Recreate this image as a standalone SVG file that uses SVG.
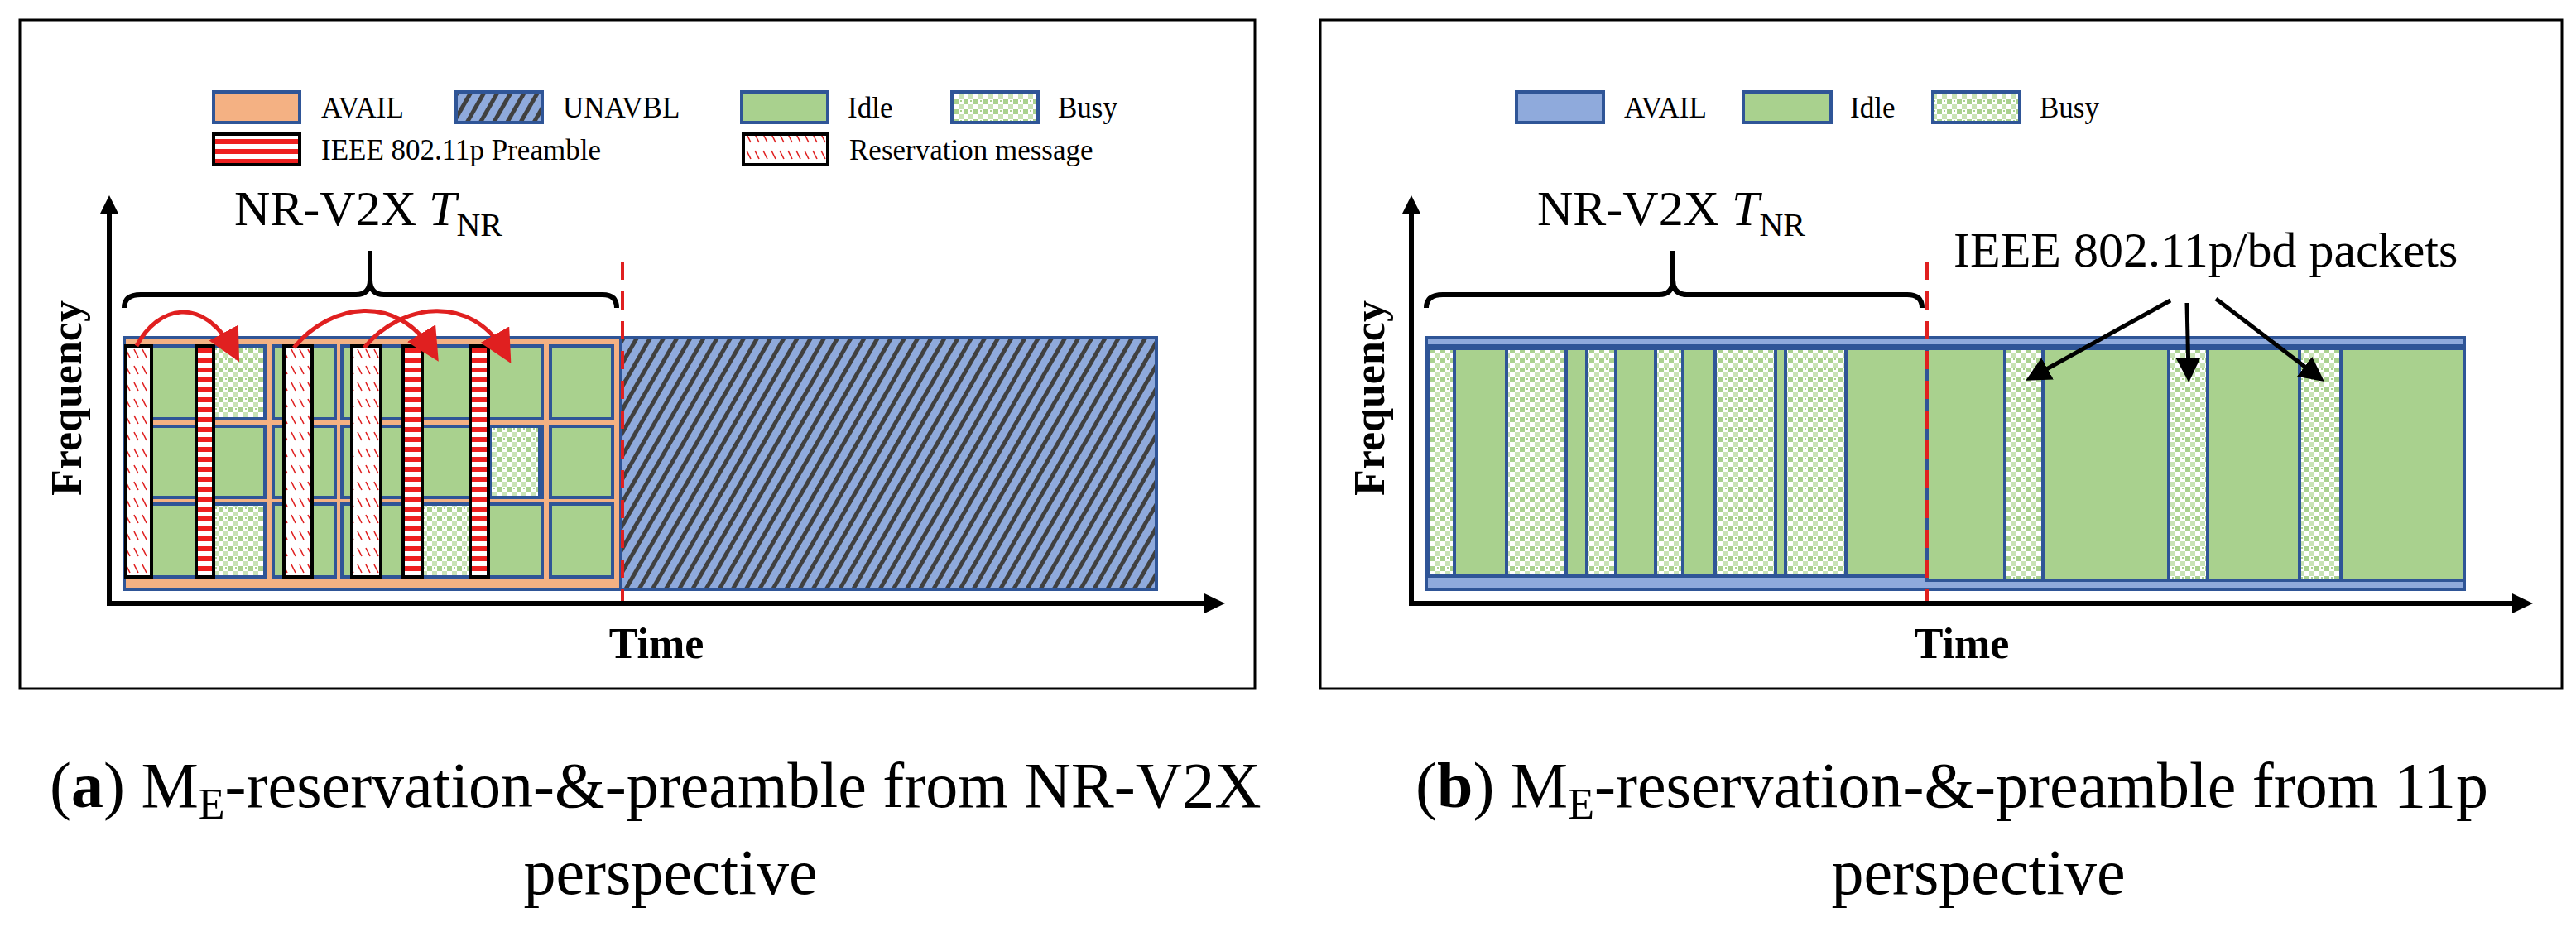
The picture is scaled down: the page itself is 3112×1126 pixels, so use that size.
<svg xmlns="http://www.w3.org/2000/svg" width="3112" height="1126" viewBox="0 0 3112 1126">
<defs>
<style>
.lg{font-family:"Liberation Serif",serif;font-size:35px;fill:#000}
.big{font-family:"Liberation Serif",serif;font-size:60px;fill:#000}
.ax{font-family:"Liberation Serif",serif;font-size:52px;font-weight:bold;fill:#000}
.cap{font-family:"Liberation Serif",serif;font-size:78px;fill:#000}
.cell{fill:#a9d18e;stroke:#2f5597;stroke-width:4}
.busy{fill:url(#busy);stroke:#2f5597;stroke-width:4}
.bar{stroke:#000;stroke-width:4}
.box{fill:none;stroke:#000;stroke-width:3}
.axis{stroke:#000;stroke-width:6;fill:none}
.brace{stroke:#000;stroke-width:6;fill:none}
.dash{stroke:#e02020;stroke-width:4;stroke-dasharray:22,14}
</style>
<pattern id="busy" width="12" height="12" patternUnits="userSpaceOnUse">
<rect width="12" height="12" fill="#fff"/>
<rect x="0" y="0" width="6" height="6" fill="#a9d18e"/>
<rect x="6" y="6" width="6" height="6" fill="#c9e3b6"/>
<rect x="8" y="1" width="2" height="2" fill="#a9d18e"/>
</pattern>
<pattern id="unav" width="14" height="14" patternUnits="userSpaceOnUse" patternTransform="rotate(30)">
<rect width="14" height="14" fill="#8faadc"/>
<rect width="5" height="14" fill="#404040"/>
</pattern>
<pattern id="pre" width="10" height="12" patternUnits="userSpaceOnUse">
<rect width="10" height="12" fill="#fff"/>
<rect width="10" height="6" fill="#ee2020"/>
</pattern>
<pattern id="res" width="10" height="20" patternUnits="userSpaceOnUse">
<rect width="10" height="20" fill="#fff"/>
<line x1="2" y1="2" x2="7" y2="12" stroke="#e02020" stroke-width="1.6"/>
</pattern>
<marker id="ra" markerWidth="8" markerHeight="8" refX="5" refY="4" orient="auto" markerUnits="strokeWidth">
<path d="M0,0 L8,4 L0,8 z" fill="#e02020"/>
</marker>
<marker id="ka" markerWidth="6" markerHeight="6" refX="4" refY="3" orient="auto" markerUnits="strokeWidth">
<path d="M0,0 L6,3 L0,6 z" fill="#000"/>
</marker>
</defs>
<rect width="3112" height="1126" fill="#fff"/>

<!-- Panel a -->
<g id="panel-a">
<rect class="box" x="24" y="24" width="1492" height="808"/>
<g id="legend-a">
<rect x="258" y="111" width="104" height="37" fill="#f4b183" stroke="#2f5597" stroke-width="4"/>
<text class="lg" x="388" y="142">AVAIL</text>
<rect x="551" y="111" width="104" height="37" fill="url(#unav)" stroke="#2f5597" stroke-width="4"/>
<text class="lg" x="680" y="142">UNAVBL</text>
<rect x="896" y="111" width="104" height="37" class="cell"/>
<text class="lg" x="1024" y="142">Idle</text>
<rect x="1150" y="111" width="104" height="37" class="busy"/>
<text class="lg" x="1278" y="142">Busy</text>
<rect x="258" y="162" width="104" height="37" fill="url(#pre)" class="bar"/>
<text class="lg" x="388" y="193">IEEE 802.11p Preamble</text>
<rect x="898" y="162" width="102" height="37" fill="url(#res)" class="bar"/>
<text class="lg" x="1026" y="193">Reservation message</text>
</g>
<text class="big" x="283" y="272">NR-V2X <tspan font-style="italic">T</tspan><tspan font-size="40" dy="13">NR</tspan></text>
<path class="brace" d="M150,372 Q150,356 170,356 L430,356 Q447,356 447,338 L447,303 M447,338 Q447,356 464,356 L728,356 Q745,356 745,372"/>
<g id="plot-a">
<rect x="150" y="408" width="600" height="304" fill="#f4b183" stroke="#2f5597" stroke-width="4"/>
<rect x="750" y="408" width="647" height="304" fill="url(#unav)" stroke="#2f5597" stroke-width="4"/>
<g id="cells-a">
<rect class="cell" x="153" y="418" width="167" height="88"/><rect class="cell" x="153" y="515" width="167" height="86"/><rect class="cell" x="153" y="609" width="167" height="88"/>
<rect class="cell" x="330" y="418" width="75" height="88"/><rect class="cell" x="330" y="515" width="75" height="86"/><rect class="cell" x="330" y="609" width="75" height="88"/>
<rect class="cell" x="413" y="418" width="167" height="88"/><rect class="cell" x="413" y="515" width="167" height="86"/><rect class="cell" x="413" y="609" width="167" height="88"/>
<rect class="cell" x="590" y="418" width="65" height="88"/><rect class="cell" x="590" y="515" width="65" height="86"/><rect class="cell" x="590" y="609" width="65" height="88"/>
<rect class="cell" x="665" y="418" width="75" height="88"/><rect class="cell" x="665" y="515" width="75" height="86"/><rect class="cell" x="665" y="609" width="75" height="88"/>
<rect class="busy" x="258" y="418" width="62" height="88"/>
<rect class="busy" x="258" y="609" width="62" height="88"/>
<rect class="busy" x="592" y="515" width="60" height="86"/>
<rect class="busy" x="510" y="609" width="58" height="88"/>
</g>
<g id="bars-a">
<rect class="bar" x="152" y="418" width="31" height="279" fill="url(#res)"/>
<rect class="bar" x="237" y="418" width="21" height="279" fill="url(#pre)"/>
<rect class="bar" x="343" y="418" width="34" height="279" fill="url(#res)"/>
<rect class="bar" x="425" y="418" width="35" height="279" fill="url(#res)"/>
<rect class="bar" x="487" y="418" width="23" height="279" fill="url(#pre)"/>
<rect class="bar" x="568" y="418" width="22" height="279" fill="url(#pre)"/>
</g>
</g>
<g id="connectors-a" fill="none" stroke="#e02020" stroke-width="5">
<path d="M165,418 C190,370 245,355 282,424" marker-end="url(#ra)"/>
<path d="M355,420 C400,365 480,355 522,424" marker-end="url(#ra)"/>
<path d="M440,420 C485,365 570,355 610,426" marker-end="url(#ra)"/>
</g>
<line class="dash" x1="752" y1="316" x2="752" y2="726"/>
<g id="axes-a">
<line class="axis" x1="132" y1="732" x2="132" y2="255"/>
<path d="M121,258 L132,236 L143,258 z" fill="#000"/>
<line class="axis" x1="129" y1="729" x2="1460" y2="729"/>
<path d="M1455,717 L1480,729 L1455,741 z" fill="#000"/>
<text class="ax" x="793" y="795" text-anchor="middle">Time</text>
<text class="ax" transform="translate(98,481) rotate(-90)" text-anchor="middle">Frequency</text>
</g>
</g>

<!-- Panel b -->
<g id="panel-b">
<rect class="box" x="1595" y="24" width="1500" height="808"/>
<g id="legend-b">
<rect x="1832" y="111" width="105" height="37" fill="#8faadc" stroke="#2f5597" stroke-width="4"/>
<text class="lg" x="1962" y="142">AVAIL</text>
<rect x="2106" y="111" width="106" height="37" class="cell"/>
<text class="lg" x="2235" y="142">Idle</text>
<rect x="2335" y="111" width="105" height="37" class="busy"/>
<text class="lg" x="2464" y="142">Busy</text>
</g>
<text class="big" x="1857" y="272">NR-V2X <tspan font-style="italic">T</tspan><tspan font-size="40" dy="13">NR</tspan></text>
<path class="brace" d="M1723,372 Q1723,356 1743,356 L2004,356 Q2021,356 2021,338 L2021,303 M2021,338 Q2021,356 2038,356 L2304,356 Q2322,356 2322,372"/>
<text class="big" x="2360" y="322">IEEE 802.11p/bd packets</text>
<g id="plot-b">
<rect x="1723" y="408" width="1254" height="304" fill="#8faadc" stroke="#2f5597" stroke-width="4"/>
<line x1="1723" y1="418" x2="2977" y2="418" stroke="#2f5597" stroke-width="4"/>
<rect x="1725" y="421" width="603" height="275" class="cell"/>
<rect x="2328" y="421" width="649" height="280" class="cell"/>
<g id="cols-b">
<rect class="busy" x="1725" y="421" width="32" height="275"/>
<rect class="busy" x="1820" y="421" width="72" height="275"/>
<rect class="cell" x="1892" y="421" width="25" height="275"/>
<rect class="busy" x="1917" y="421" width="35" height="275"/>
<rect class="busy" x="2000" y="421" width="33" height="275"/>
<rect class="busy" x="2072" y="421" width="73" height="275"/>
<rect class="busy" x="2157" y="421" width="73" height="275"/>
<rect class="busy" x="2422" y="421" width="46" height="280"/>
<rect class="busy" x="2620" y="421" width="47" height="280"/>
<rect class="busy" x="2778" y="421" width="50" height="280"/>
</g>
</g>
<g id="connectors-b" fill="none" stroke="#000" stroke-width="5">
<line x1="2622" y1="363" x2="2456" y2="455" marker-end="url(#ka)"/>
<line x1="2642" y1="366" x2="2644" y2="452" marker-end="url(#ka)"/>
<line x1="2677" y1="361" x2="2800" y2="455" marker-end="url(#ka)"/>
</g>
<line class="dash" x1="2328" y1="316" x2="2328" y2="726"/>
<g id="axes-b">
<line class="axis" x1="1705" y1="732" x2="1705" y2="255"/>
<path d="M1694,258 L1705,236 L1716,258 z" fill="#000"/>
<line class="axis" x1="1702" y1="729" x2="3040" y2="729"/>
<path d="M3035,717 L3060,729 L3035,741 z" fill="#000"/>
<text class="ax" x="2370" y="795" text-anchor="middle">Time</text>
<text class="ax" transform="translate(1672,481) rotate(-90)" text-anchor="middle">Frequency</text>
</g>
</g>

<text class="cap" x="60" y="975">(<tspan font-weight="bold">a</tspan>) M<tspan font-size="52" dy="14">E</tspan><tspan dy="-14">-reservation-&amp;-preamble from NR-V2X</tspan></text>
<text class="cap" x="810" y="1080" text-anchor="middle">perspective</text>
<text class="cap" x="1710" y="975">(<tspan font-weight="bold">b</tspan>) M<tspan font-size="52" dy="14">E</tspan><tspan dy="-14">-reservation-&amp;-preamble from 11p</tspan></text>
<text class="cap" x="2390" y="1080" text-anchor="middle">perspective</text>
</svg>
